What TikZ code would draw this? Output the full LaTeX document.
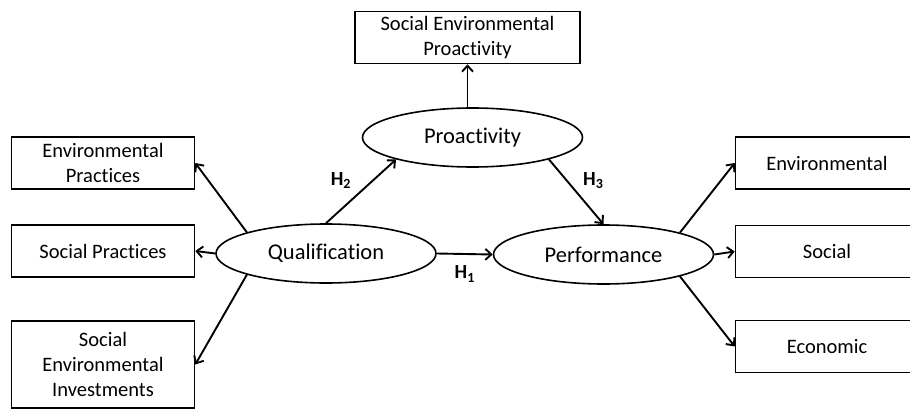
\documentclass[tikz,border=0pt]{standalone}
\usepackage{fontspec}
\setmainfont{Carlito}[Ligatures=NoCommon]
\usetikzlibrary{shapes.geometric}
\usetikzlibrary{positioning}
\usetikzlibrary{arrows.meta}
\tikzset{>={Straight Barb[length=6pt,width=11pt]}}

\begin{document}
\begin{tikzpicture}
	[x=1pt,y=-1pt,line width=1.9pt,
	box/.style={rectangle,draw,line width=1.6pt,minimum width=183pt,minimum height=52pt,align=center,inner sep=0pt,font=\fontsize{20.5}{25}\selectfont},
	latent/.style={ellipse,draw,line width=1.6pt,minimum width=220pt,minimum height=59pt,inner sep=0pt,font=\fontsize{22.5}{26}\selectfont},
	hlab/.style={inner sep=2pt,font=\fontsize{20}{24}\selectfont\bfseries}]
	\useasboundingbox (0,0) rectangle (910,409);
	\node [box,minimum width=225pt] (sep) at (467.5,37.5) {Social Environmental\\Proactivity};
	\node [latent] (proact) at (472.5,137.5) {Proactivity};
	\node [latent] (qual) at (326,253.5) {Qualification};
	\node [latent] (perf) at (603.5,254.5) {Performance};
	\node [box] (envp) at (103,163) {Environmental\\Practices};
	\node [box] (socp) at (103,251) {Social Practices};
	\node [box,minimum height=87pt] (sei) at (103,364.5) {Social\\Environmental\\Investments};
	\node [box] (env) at (827,163) {Environmental};
	\node [box] (soc) at (827,251.5) {Social};
	\node [box] (eco) at (827,346.5) {Economic};
	\draw[->] (proact.north -| sep.south) -- (sep.south);
	\draw[->] (qual.165) -- (envp.east);
	\draw[->] (qual.west) -- (socp.east);
	\draw[->] (qual.195) -- (sei.east);
	\draw[->] (qual.north) -- node [hlab,above left=0pt and 7pt] {H\textsubscript{2}} (proact.196);
	\draw[->] (qual.east) -- node [hlab,below=9pt] {H\textsubscript{1}} (perf.west);
	\draw[->] (proact.-16) -- node [hlab,above right=0pt and 4pt] {H\textsubscript{3}} (perf.north);
	\draw[->] (perf.16) -- (env.west);
	\draw[->] (perf.east) -- (soc.west);
	\draw[->] (perf.-16) -- (eco.west);
\end{tikzpicture}
\end{document}
